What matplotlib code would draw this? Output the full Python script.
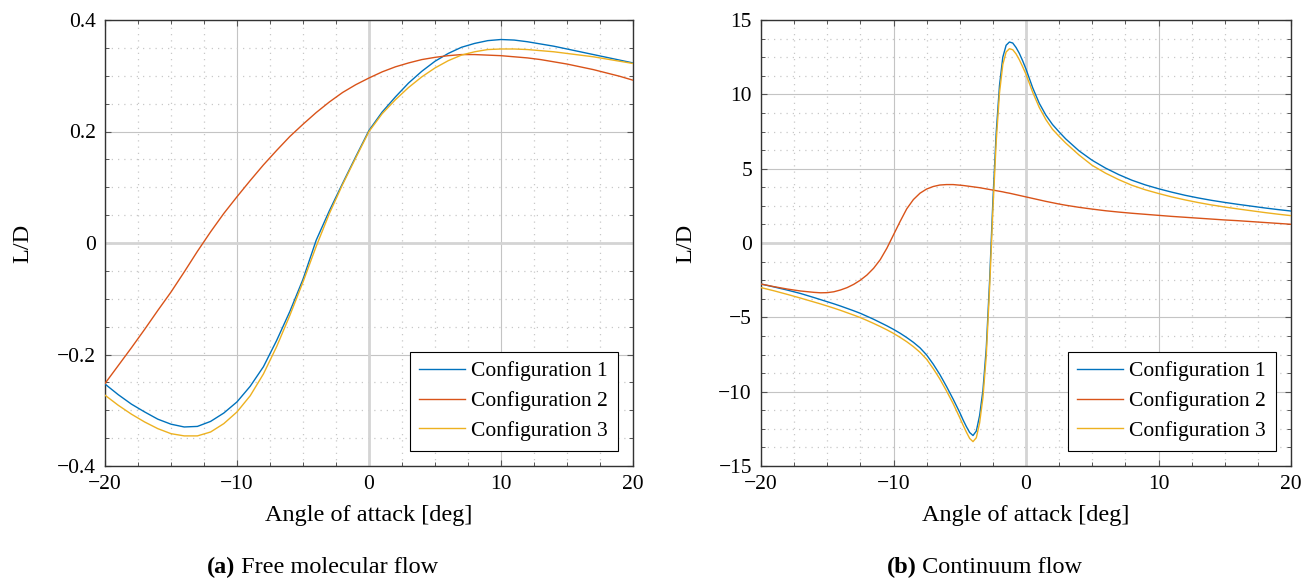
import matplotlib
matplotlib.use('Agg')
import matplotlib.pyplot as plt
from matplotlib.ticker import MultipleLocator, FuncFormatter

plt.rcParams['font.family'] = ['Liberation Serif', 'DejaVu Serif']
plt.rcParams['font.size'] = 15.5
plt.rcParams['axes.unicode_minus'] = True

# ---- (a) free molecular flow ----
aoa_fm = list(range(-20, 21))
fm_conf1 = [-0.253, -0.272, -0.289, -0.303, -0.316, -0.325, -0.330, -0.329, -0.320, -0.305,
            -0.285, -0.257, -0.222, -0.175, -0.123, -0.065, 0.005, 0.058, 0.107, 0.155,
            0.202, 0.235, 0.262, 0.287, 0.308, 0.326, 0.340, 0.351, 0.358, 0.363,
            0.365, 0.364, 0.361, 0.357, 0.353, 0.348, 0.343, 0.338, 0.333, 0.328, 0.323]
fm_conf2 = [-0.252, -0.220, -0.188, -0.155, -0.121, -0.088, -0.052, -0.015, 0.020, 0.053,
            0.083, 0.112, 0.140, 0.166, 0.191, 0.213, 0.234, 0.253, 0.270, 0.284,
            0.296, 0.307, 0.316, 0.323, 0.329, 0.333, 0.336, 0.338, 0.338, 0.337,
            0.336, 0.334, 0.332, 0.329, 0.325, 0.321, 0.316, 0.311, 0.305, 0.299, 0.292]
fm_conf3 = [-0.273, -0.291, -0.307, -0.321, -0.333, -0.342, -0.346, -0.346, -0.339, -0.324,
            -0.303, -0.274, -0.235, -0.186, -0.130, -0.070, -0.006, 0.053, 0.105, 0.153,
            0.200, 0.232, 0.257, 0.279, 0.298, 0.314, 0.327, 0.337, 0.343, 0.347,
            0.348, 0.348, 0.347, 0.345, 0.343, 0.340, 0.337, 0.334, 0.330, 0.326, 0.322]

# ---- (b) continuum flow ----
aoa_c = [-20, -19, -18, -17, -16, -15.5, -15, -14.5, -14, -13.5, -13, -12.5, -12, -11.5, -11,
         -10.5, -10, -9.5, -9, -8.5, -8, -7.5, -7, -6.5, -6, -5.5, -5,
         -4.75, -4.5, -4.25, -4, -3.75, -3.5, -3.25, -3, -2.75, -2.5, -2.25, -2, -1.75,
         -1.5, -1.25, -1, -0.75, -0.5, -0.25,
         0, 0.5, 1, 1.5, 2, 2.5, 3, 4, 5, 6, 7, 8, 9, 10, 11, 12, 13, 14, 15, 16, 17, 18, 19, 20]
c_conf1 = [-2.76, -2.96, -3.17, -3.40, -3.67, -3.81, -3.95, -4.09, -4.24, -4.40, -4.56, -4.73,
           -4.93, -5.13, -5.35, -5.57, -5.81, -6.07, -6.36, -6.68, -7.05, -7.53, -8.15, -8.85,
           -9.65, -10.5, -11.4,
           -11.9, -12.35, -12.75, -12.95, -12.65, -11.6, -9.9, -7.1, -2.6, 2.8, 7.4, 10.6, 12.5,
           13.3, 13.52, 13.45, 13.15, 12.75, 12.25,
           11.7, 10.45, 9.4, 8.6, 7.97, 7.47, 7.0, 6.2, 5.56, 5.04, 4.6, 4.22, 3.91, 3.65,
           3.42, 3.21, 3.03, 2.87, 2.73, 2.6, 2.48, 2.36, 2.25, 2.15]
c_conf2 = [-2.76, -2.94, -3.10, -3.23, -3.32, -3.35, -3.34, -3.28, -3.16, -3.0, -2.78, -2.5,
           -2.15, -1.7, -1.12, -0.35, 0.55, 1.45, 2.3, 2.92, 3.35, 3.63, 3.8, 3.9,
           3.93, 3.93, 3.89,
           3.87, 3.84, 3.81, 3.78, 3.75, 3.72, 3.68, 3.64, 3.6, 3.56, 3.52, 3.48, 3.44,
           3.39, 3.35, 3.3, 3.25, 3.2, 3.15,
           3.1, 3.0, 2.9, 2.8, 2.71, 2.62, 2.54, 2.4, 2.28, 2.17, 2.08, 2.0, 1.93, 1.86,
           1.79, 1.73, 1.67, 1.61, 1.55, 1.5, 1.44, 1.38, 1.32, 1.26]
c_conf3 = [-3.0, -3.22, -3.46, -3.71, -3.97, -4.10, -4.24, -4.38, -4.53, -4.69, -4.85, -5.02,
           -5.21, -5.41, -5.62, -5.84, -6.08, -6.35, -6.64, -6.97, -7.35, -7.82, -8.45, -9.15,
           -9.95, -10.8, -11.75,
           -12.25, -12.72, -13.15, -13.36, -13.1, -12.1, -10.4, -7.6, -3.1, 2.2, 6.8, 10.1, 12.0,
           12.85, 13.07, 13.0, 12.72, 12.32, 11.85,
           11.35, 10.15, 9.12, 8.3, 7.65, 7.17, 6.72, 5.92, 5.22, 4.7, 4.26, 3.88, 3.58, 3.33,
           3.1, 2.9, 2.72, 2.56, 2.42, 2.29, 2.17, 2.05, 1.94, 1.84]

labels = ['Configuration 1', 'Configuration 2', 'Configuration 3']
colors = ['#0072BD', '#D95319', '#EDB120']
LABEL_SIZE = 17.5


def fmt(v, _):
    v = round(v, 6)
    if v == 0:
        return '0'
    return ('%g' % v).replace('-', '\u2212')


def style(ax, ylim, ymaj, ymin):
    ax.set_xlim(-20, 20)
    ax.set_ylim(*ylim)
    ax.xaxis.set_major_locator(MultipleLocator(10))
    ax.xaxis.set_minor_locator(MultipleLocator(2.5))
    ax.yaxis.set_major_locator(MultipleLocator(ymaj))
    ax.yaxis.set_minor_locator(MultipleLocator(ymin))
    ax.xaxis.set_major_formatter(FuncFormatter(fmt))
    ax.yaxis.set_major_formatter(FuncFormatter(fmt))
    ax.grid(which='major', color='#c4c4c4', lw=0.8, zorder=0)
    ax.grid(which='minor', color='#c8c8c8', lw=0.9, ls=(0, (1, 4)), zorder=0)
    ax.axhline(0, color='#d4d4d4', lw=2.0, zorder=1)
    ax.axvline(0, color='#d4d4d4', lw=2.0, zorder=1)
    ax.tick_params(which='both', direction='in', top=True, right=True, color='#555555')
    ax.tick_params(which='major', length=4.5, width=0.8, pad=6.5)
    ax.tick_params(which='minor', length=2.6, width=0.7)
    for s in ax.spines.values():
        s.set_color('#333333')
        s.set_linewidth(1.0)
    ax.set_axisbelow(True)
    ax.set_xlabel('Angle of attack [deg]', fontsize=LABEL_SIZE)
    ax.set_ylabel('L/D', fontsize=LABEL_SIZE)
    ax.xaxis.set_label_coords(0.5, -0.088)
    leg = ax.legend(loc='lower right', fancybox=False, edgecolor='black', framealpha=1,
                    borderaxespad=0.72, borderpad=0.45, handlelength=2.1, handletextpad=0.3,
                    labelspacing=0.45)
    leg.get_frame().set_linewidth(0.8)


fig = plt.figure(figsize=(13.16, 5.79), dpi=100)
ax1 = fig.add_axes([105 / 1316, 1 - 466 / 579, 528 / 1316, 446 / 579])
ax2 = fig.add_axes([761 / 1316, 1 - 466 / 579, 530 / 1316, 446 / 579])

for ys, lab, c in zip([fm_conf1, fm_conf2, fm_conf3], labels, colors):
    ax1.plot(aoa_fm, ys, color=c, lw=1.0, label=lab, zorder=3)
for ys, lab, c in zip([c_conf1, c_conf2, c_conf3], labels, colors):
    ax2.plot(aoa_c, ys, color=c, lw=1.0, label=lab, zorder=3)

style(ax1, (-0.4, 0.4), 0.2, 0.05)
style(ax2, (-15, 15), 5, 1.25)
ax1.yaxis.set_label_coords(-0.135, 0.5)
ax2.yaxis.set_label_coords(-0.123, 0.5)

# captions: bold tag + plain text, centred under each subfigure
fig.canvas.draw()
r = fig.canvas.get_renderer()
W = fig.bbox.width
for cx, tag, txt in [(0.245, '(a)', 'Free molecular flow'), (0.748, '(b)', 'Continuum flow')]:
    t1 = fig.text(0, 0.0205, tag, fontweight='bold', va='center', ha='left', fontsize=LABEL_SIZE)
    t2 = fig.text(0, 0.0205, ' ' + txt, va='center', ha='left', fontsize=LABEL_SIZE)
    w1 = t1.get_window_extent(r).width
    w2 = t2.get_window_extent(r).width
    x0 = cx * W - (w1 + w2) / 2
    t1.set_x(x0 / W)
    t2.set_x((x0 + w1) / W)

fig.savefig('out.png', dpi=100)
